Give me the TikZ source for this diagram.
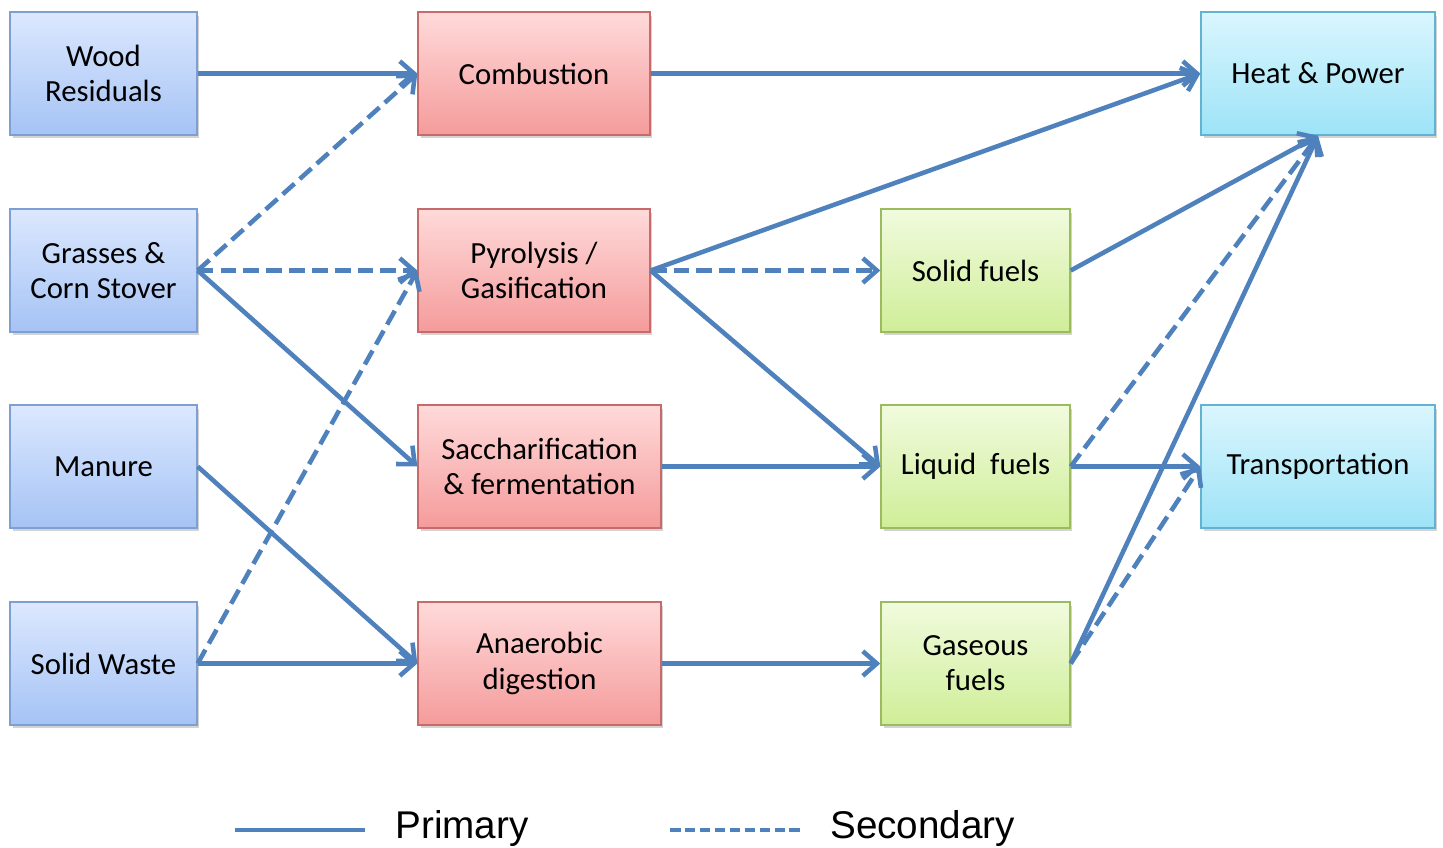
\documentclass[tikz,border=0pt]{standalone}
\usepackage{fontspec}
\usetikzlibrary{arrows.meta,shadows}
\newfontfamily\boxfont{Carlito}
\newfontfamily\legendfont{Liberation Sans}

\definecolor{flow}{HTML}{4F81BD}
\definecolor{feedtop}{HTML}{DCE8FE}
\definecolor{feedbot}{HTML}{A5C3F5}
\definecolor{feedline}{HTML}{7D9FD1}
\definecolor{proctop}{HTML}{FFDADA}
\definecolor{procbot}{HTML}{F59B9B}
\definecolor{procline}{HTML}{C96A6A}
\definecolor{fueltop}{HTML}{F1FBDE}
\definecolor{fuelbot}{HTML}{CFEE98}
\definecolor{fuelline}{HTML}{9CBB5E}
\definecolor{usetop}{HTML}{DAF6FE}
\definecolor{usebot}{HTML}{9DE3F7}
\definecolor{useline}{HTML}{62B3D1}

\tikzset{
    box/.style={rectangle, draw, line width=0.8pt, minimum height=2.46cm,
        align=center, inner sep=2pt,
        font=\boxfont\fontsize{17.5}{20}\selectfont,
        drop shadow={opacity=0.35, shadow xshift=0.05cm, shadow yshift=-0.07cm}},
    feed/.style={box, draw=feedline, top color=feedtop, bottom color=feedbot, minimum width=3.74cm},
    proc/.style={box, draw=procline, top color=proctop, bottom color=procbot},
    fuel/.style={box, draw=fuelline, top color=fueltop, bottom color=fuelbot, minimum width=3.78cm},
    enduse/.style={box, draw=useline, top color=usetop, bottom color=usebot, minimum width=4.68cm},
    primary/.style={draw=flow, line width=2.6pt, -{Straight Barb[length=8pt,width=14pt]}},
    secondary/.style={primary, dash pattern=on 9pt off 4pt},
    legend/.style={font=\legendfont\fontsize{22}{24}\selectfont, anchor=west, inner sep=0pt}
}

\begin{document}
\begin{tikzpicture}[x=0.02cm, y=-0.02cm]
\useasboundingbox (0,0) rectangle (1443,848);

% Feedstocks
\node[feed] (wood) at (103.5,73.5) {Wood\\Residuals};
\node[feed] (grass) at (103.5,270.5) {Grasses \&\\Corn Stover};
\node[feed] (manure) at (103.5,466.5) {Manure};
\node[feed] (waste) at (103.5,663.5) {Solid Waste};

% Conversion
\node[proc, minimum width=4.64cm] (comb) at (534,73.5) {Combustion};
\node[proc, minimum width=4.64cm] (pyro) at (534,270.5) {Pyrolysis /\\Gasification};
\node[proc, minimum width=4.86cm] (sacch) at (539.5,466.5) {Saccharification\\\& fermentation};
\node[proc, minimum width=4.86cm] (anaer) at (539.5,663.5) {Anaerobic\\digestion};

% Fuels
\node[fuel] (solid) at (975.5,270.5) {Solid fuels};
\node[fuel] (liquid) at (975.5,466.5) {Liquid\ \ fuels};
\node[fuel] (gas) at (975.5,663.5) {Gaseous\\fuels};

% End uses
\node[enduse] (heat) at (1318,73.5) {Heat \& Power};
\node[enduse] (trans) at (1318,466.5) {Transportation};

% Primary pathways
\draw[primary] (wood.east) -- (comb.west);
\draw[primary] (grass.east) -- (sacch.west);
\draw[primary] (manure.east) -- (anaer.west);
\draw[primary] (waste.east) -- (anaer.west);
\draw[primary] (comb.east) -- (heat.west);
\draw[primary] (pyro.east) -- (heat.west);
\draw[primary] (pyro.east) -- (liquid.west);
\draw[primary] (sacch.east) -- (liquid.west);
\draw[primary] (anaer.east) -- (gas.west);
\draw[primary] (solid.east) -- (heat.south);
\draw[primary] (gas.east) -- (heat.south);
\draw[primary] (liquid.east) -- (trans.west);

% Secondary pathways
\draw[secondary] (grass.east) -- (comb.west);
\draw[secondary] (grass.east) -- (pyro.west);
\draw[secondary] (waste.east) -- (pyro.west);
\draw[secondary] (pyro.east) -- (solid.west);
\draw[secondary] (liquid.east) -- (heat.south);
\draw[secondary] (gas.east) -- (trans.west);

% Legend
\coordinate (p1) at (235,830);
\coordinate (p2) at (365,830);
\coordinate (s1) at (670,830);
\coordinate (s2) at (800,830);
\draw[draw=flow, line width=2.8pt] (p1) -- (p2);
\draw[draw=flow, line width=2.8pt, dash pattern=on 6pt off 2.5pt] (s1) -- (s2);
\node[legend] (prim) at (395,828) {Primary};
\node[legend] (sec) at (830,828) {Secondary};

\end{tikzpicture}
\end{document}
